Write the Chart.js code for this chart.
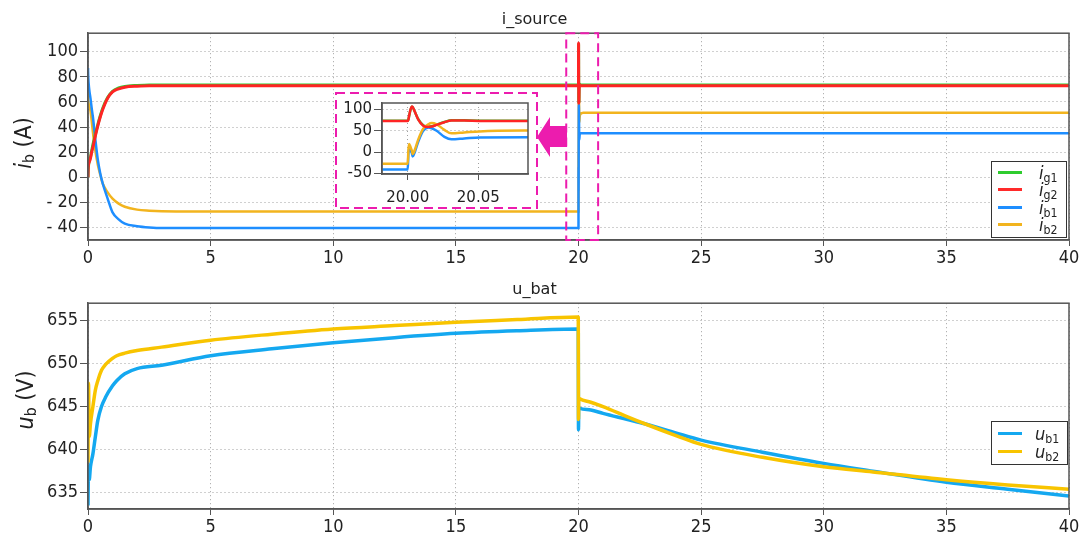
<!DOCTYPE html>
<html>
<head>
<meta charset="utf-8">
<script src="https://cdn.jsdelivr.net/npm/chart.js@4.4.0/dist/chart.umd.min.js"></script>
<style>
body { margin:0; background:#fff; }
#wrap { position:relative; width:1083px; height:538px; font-family:'DejaVu Sans Condensed','DejaVu Sans',sans-serif; color:#222; overflow:hidden; }
.pane { position:absolute; }
.legend { position:absolute; background:#fff; border:1px solid #333; box-sizing:border-box; }
.legend .swatch { position:absolute; left:6px; width:24px; height:2.5px; }
.legend .lbl { position:absolute; font-size:18px; line-height:18px; white-space:nowrap; }
.legend sub, .ytitle sub { font-style:normal; font-size:0.68em; vertical-align:-0.25em; }
.ytitle { position:absolute; transform:translate(-50%,-50%) rotate(-90deg); font-size:23px; white-space:nowrap; }
</style>
</head>
<body>
<div id="wrap">
  <div class="pane" style="left:0;top:0;width:1083px;height:270px"><canvas id="topChart" width="1083" height="270"></canvas></div>
  <div class="pane" style="left:0;top:270px;width:1083px;height:268px"><canvas id="botChart" width="1083" height="268"></canvas></div>
  <div class="pane" style="left:335px;top:92px;width:203px;height:117px"><canvas id="insetChart" width="203" height="117"></canvas></div>

  <div class="ytitle" style="left:24px;top:143px"><i>i</i><sub>b</sub> (A)</div>
  <div class="ytitle" style="left:26px;top:400px"><i>u</i><sub>b</sub> (V)</div>

  <div class="legend" style="left:991px;top:161px;width:76px;height:77px">
    <div class="swatch" style="top:9px;background:#2ECC2E"></div><div class="lbl" style="left:47px;top:2px"><i>i</i><sub>g1</sub></div>
    <div class="swatch" style="top:26px;background:#FF2A2A"></div><div class="lbl" style="left:47px;top:19px"><i>i</i><sub>g2</sub></div>
    <div class="swatch" style="top:44px;background:#1E8EFF"></div><div class="lbl" style="left:47px;top:37px"><i>i</i><sub>b1</sub></div>
    <div class="swatch" style="top:61px;background:#F2B41E"></div><div class="lbl" style="left:47px;top:54px"><i>i</i><sub>b2</sub></div>
  </div>
  <div class="legend" style="left:991px;top:421px;width:77px;height:44px">
    <div class="swatch" style="top:10px;background:#14A8F0"></div><div class="lbl" style="left:43px;top:3px"><i>u</i><sub>b1</sub></div>
    <div class="swatch" style="top:28px;background:#F8C400"></div><div class="lbl" style="left:43px;top:21px"><i>u</i><sub>b2</sub></div>
  </div>
</div>

<script>
// ---- i_source data (time in s, current in A) ----
const tStart = [0, 0.01, 0.05, 0.1, 0.15, 0.2, 0.3, 0.4, 0.5, 0.6, 0.8, 1.0, 1.25, 1.5, 2.0, 2.5, 3, 5, 10, 15, 19.999];
const ig1Start = [0, 6, 13, 16, 21, 26, 34, 42, 49, 55, 63.5, 68.5, 71.2, 72.4, 73.2, 73.6, 73.6, 73.6, 73.6, 73.6, 73.6];
const ig2Start = [0, 8, 12, 15, 20, 24, 33, 41, 48, 54, 63, 68, 70.5, 71.8, 72.6, 73, 73, 73, 73, 73, 73];
const ib1Start = [87, 80, 70, 63, 55, 48, 30, 14, 3, -5, -17, -28, -33.5, -37, -39, -40, -40.5, -40.5, -40.5, -40.5, -40.5];
const ib2Start = [68, 62, 57, 53, 45, 36, 21, 10, 2, -5, -12, -17, -21, -23.5, -25.8, -26.6, -27, -27.2, -27.2, -27.2, -27.2];

const tJump = [20.0, 20.0005, 20.001, 20.002, 20.003, 20.0035, 20.005, 20.0075, 20.011, 20.0146, 20.017, 20.0205, 20.026, 20.031, 20.04, 20.051, 20.085];
const ig1Jump = [73.6, 76, 84, 99, 106, 105.5, 95, 77, 63, 59.5, 60.5, 64.5, 70.5, 74.5, 74.4, 73.7, 73.6];
const ig2Jump = [73, 76, 85, 100, 107, 106, 95, 76, 62, 59, 60, 64, 70, 74, 74, 73.2, 73];
const ib1Jump = [-40.5, -5, 8, 5, -3, -10, 0, 25, 50, 58, 56, 50, 36, 30, 32, 34.5, 35];
const ib2Jump = [-27.2, 5, 19, 12, 3, -4, 5, 30, 55, 65, 68, 65, 52, 44, 46, 48.5, 50.5];

const tEnd = [20.2, 25, 30, 35, 40];
const ig1End = [73.6, 73.6, 73.6, 73.6, 73.6];
const ig2End = [73, 73, 73, 73, 73];
const ib1End = [35, 35, 35, 35, 35];
const ib2End = [51.4, 51.4, 51.4, 51.4, 51.4];

// ---- u_bat data (time in s, voltage in V) ----
const tU = [0, 0.02, 0.05, 0.1, 0.2, 0.3, 0.4, 0.55, 0.72, 1.0, 1.17, 1.5, 2, 3, 5, 7.5, 10, 12.5, 15, 17.5, 19.99, 20.0, 20.01, 20.05, 20.5, 21, 22, 22.7, 24, 25, 27.5, 30, 32, 35, 37.5, 40];
const ub1 = [633.5, 638, 636.5, 638, 639.5, 641.5, 643.4, 645, 646.1, 647.4, 648, 648.8, 649.4, 649.8, 650.9, 651.7, 652.4, 653.0, 653.5, 653.8, 654.0, 642.3, 644.9, 644.8, 644.6, 644.2, 643.5, 643.0, 641.9, 641.1, 639.7, 638.4, 637.5, 636.2, 635.4, 634.6];
const ub2 = [638.5, 647.7, 641.5, 643, 645, 646.9, 648, 649.2, 649.9, 650.6, 650.9, 651.2, 651.5, 651.9, 652.7, 653.4, 654.0, 654.4, 654.8, 655.1, 655.4, 643.5, 646.0, 645.9, 645.5, 645.0, 643.8, 643.0, 641.6, 640.6, 639.1, 638.0, 637.4, 636.5, 635.9, 635.4];

// ---- ticks ----
const xTicks = [0, 5, 10, 15, 20, 25, 30, 35, 40];
const iTicks = [-40, -20, 0, 20, 40, 60, 80, 100];
const uTicks = [635, 640, 645, 650, 655];
const insetXTicks = [20.00, 20.05];
const insetYTicks = [-50, 0, 50, 100];

const tTop = tStart.concat(tJump, tEnd);
const ig1 = ig1Start.concat(ig1Jump, ig1End);
const ig2 = ig2Start.concat(ig2Jump, ig2End);
const ib1 = ib1Start.concat(ib1Jump, ib1End);
const ib2 = ib2Start.concat(ib2Jump, ib2End);

const toPts = (ts, vs) => ts.map((t, i) => ({ x: t, y: vs[i] }));

const FONT = "'DejaVu Sans Condensed', 'DejaVu Sans', sans-serif";
const MAGENTA = '#EC1CAE';

function line(label, ts, vs, color, width, order) {
  return {
    label, data: toPts(ts, vs), borderColor: color, backgroundColor: color,
    borderWidth: width, pointRadius: 0, cubicInterpolationMode: 'monotone', order
  };
}

function axis(min, max, ticks, fmt, size, fit, extra) {
  return Object.assign({
    type: 'linear', min, max,
    afterBuildTicks: s => { s.ticks = ticks.map(v => ({ value: v })); },
    afterFit: fit,
    grid: { color: '#a0a0a0', lineWidth: 1, tickLength: 8, tickColor: '#555', tickWidth: 1, tickBorderDash: [] },
    border: { display: true, color: '#555', width: 1.5, dash: [1, 3] },
    ticks: { color: '#222', font: { family: FONT, size }, padding: 2, callback: fmt, autoSkip: false, maxRotation: 0 }
  }, extra || {});
}

const frame = {
  id: 'frame',
  afterDatasetsDraw(chart) {
    const a = chart.chartArea, ctx = chart.ctx;
    ctx.save();
    ctx.strokeStyle = '#555';
    ctx.lineWidth = 1.5;
    ctx.strokeRect(a.left, a.top, a.right - a.left, a.bottom - a.top);
    ctx.restore();
  }
};

const marks = {
  id: 'marks',
  afterDraw(chart) {
    const ctx = chart.ctx, a = chart.chartArea, xs = chart.scales.x;
    ctx.save();
    // dashed box around the switching instant
    const x1 = xs.getPixelForValue(19.5), x2 = xs.getPixelForValue(20.8);
    ctx.strokeStyle = MAGENTA;
    ctx.lineWidth = 2;
    ctx.setLineDash([9, 5]);
    ctx.strokeRect(x1, a.top, x2 - x1, a.bottom - a.top);
    // arrow pointing to the zoom window
    ctx.setLineDash([]);
    ctx.fillStyle = MAGENTA;
    ctx.beginPath();
    ctx.moveTo(537, 137);
    ctx.lineTo(550, 117);
    ctx.lineTo(550, 126);
    ctx.lineTo(567, 126);
    ctx.lineTo(567, 147);
    ctx.lineTo(550, 147);
    ctx.lineTo(550, 157);
    ctx.closePath();
    ctx.fill();
    ctx.restore();
  }
};

const titleOpts = text => ({
  display: true, text, color: '#222',
  font: { family: "'DejaVu Sans', sans-serif", size: 16, weight: 'normal' },
  padding: { top: 10, bottom: 4 }
});

const fmtI = v => v < 0 ? '- ' + Math.abs(v) : String(v);

// top chart: i_source
new Chart(document.getElementById('topChart'), {
  type: 'line',
  data: {
    datasets: [
      line('i_g1', tTop, ig1, '#2ECC2E', 3, 2),
      line('i_g2', tTop, ig2, '#FF2424', 3, 1),
      line('i_b1', tTop, ib1, '#1E8EFF', 2.5, 3),
      line('i_b2', tTop, ib2, '#F2B41E', 2.5, 4)
    ]
  },
  options: {
    responsive: false, animation: false, events: [],
    layout: { padding: { left: 0, right: 14, top: 0, bottom: 0 } },
    plugins: { legend: { display: false }, tooltip: { enabled: false }, title: titleOpts('i_source') },
    scales: {
      x: axis(0, 40, xTicks, v => String(v), 18, s => { s.height = 30; }, { grid: { color: '#a0a0a0', tickLength: 6, tickColor: '#555', tickBorderDash: [] } }),
      y: axis(-50, 114.8, iTicks, fmtI, 18, s => { s.width = 88; })
    }
  },
  plugins: [frame, marks]
});

// bottom chart: u_bat
new Chart(document.getElementById('botChart'), {
  type: 'line',
  data: {
    datasets: [
      line('u_b1', tU, ub1, '#14A8F0', 3.5, 2),
      line('u_b2', tU, ub2, '#F8C400', 3.5, 1)
    ]
  },
  options: {
    responsive: false, animation: false, events: [],
    layout: { padding: { left: 0, right: 14, top: 0, bottom: 0 } },
    plugins: { legend: { display: false }, tooltip: { enabled: false }, title: titleOpts('u_bat') },
    scales: {
      x: axis(0, 40, xTicks, v => String(v), 18, s => { s.height = 29; }, { grid: { color: '#a0a0a0', tickLength: 6, tickColor: '#555', tickBorderDash: [] } }),
      y: axis(633.1, 657, uTicks, v => String(v), 18, s => { s.width = 88; })
    }
  },
  plugins: [frame]
});

// inset: zoom on t = 20 s
const insetDeco = {
  id: 'insetDeco',
  beforeDraw(chart) {
    const ctx = chart.ctx;
    ctx.save();
    ctx.fillStyle = '#fff';
    ctx.fillRect(0, 0, chart.width, chart.height);
    ctx.restore();
  },
  afterDraw(chart) {
    const ctx = chart.ctx;
    ctx.save();
    ctx.strokeStyle = MAGENTA;
    ctx.lineWidth = 2;
    ctx.setLineDash([9, 5]);
    ctx.strokeRect(1, 1, chart.width - 2, chart.height - 2);
    ctx.restore();
  }
};

new Chart(document.getElementById('insetChart'), {
  type: 'line',
  data: {
    datasets: [
      line('i_g2', tTop, ig2, '#FF2424', 2.5, 1),
      line('i_b2', tTop, ib2, '#F2B41E', 2.5, 2),
      line('i_b1', tTop, ib1, '#1E8EFF', 2.5, 3),
      line('i_g1', tTop, ig1, '#2ECC2E', 2.5, 4)
    ]
  },
  options: {
    responsive: false, animation: false, events: [],
    layout: { padding: { left: 0, right: 10, top: 7, bottom: 0 } },
    plugins: { legend: { display: false }, tooltip: { enabled: false } },
    scales: {
      x: axis(19.9818, 20.0852, insetXTicks, v => v.toFixed(2), 15, s => { s.height = 35; },
        { ticks: { color: '#222', font: { family: "'DejaVu Sans', sans-serif", size: 15 }, padding: 9, callback: v => v.toFixed(2), autoSkip: false, maxRotation: 0 },
          grid: { color: '#a0a0a0', tickLength: 6, tickColor: '#555', tickBorderDash: [] } }),
      y: axis(-51, 115, insetYTicks, v => String(v), 15, s => { s.width = 47; },
        { ticks: { color: '#222', font: { family: "'DejaVu Sans', sans-serif", size: 15 }, padding: 2, autoSkip: false } })
    }
  },
  plugins: [insetDeco, frame]
});
</script>
</body>
</html>
